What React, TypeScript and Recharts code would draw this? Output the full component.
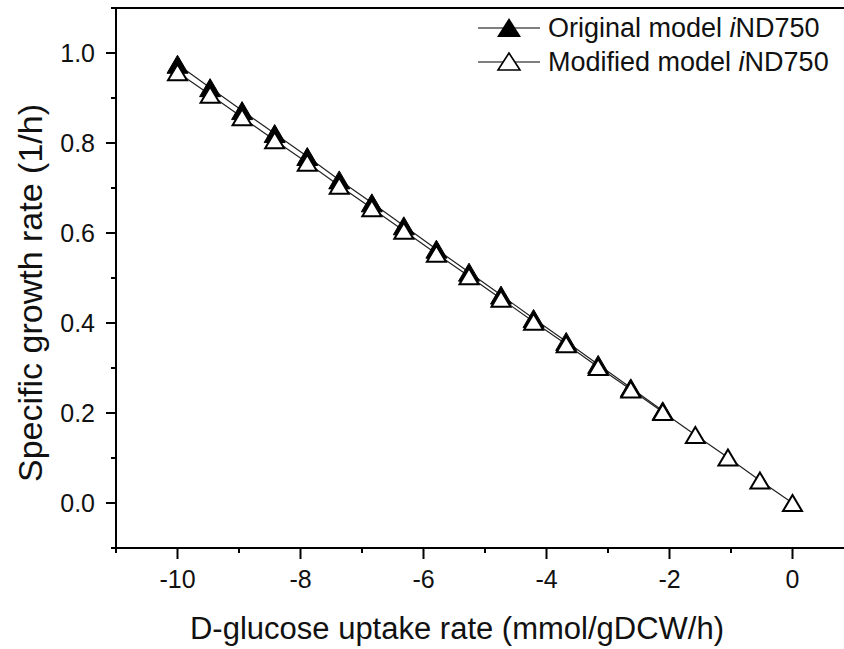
import { LineChart, Line, XAxis, YAxis, Legend, ReferenceLine } from "recharts";

// glucose uptake rate (x) and growth rate (y)
const uptakeModified = [
  -10, -9.47, -8.95, -8.42, -7.89, -7.37, -6.84, -6.32, -5.79, -5.26,
  -4.74, -4.21, -3.68, -3.16, -2.63, -2.11, -1.58, -1.05, -0.53, 0,
];
const growthModified = [
  0.957, 0.907, 0.857, 0.806, 0.756, 0.705, 0.655, 0.605, 0.554, 0.504,
  0.454, 0.403, 0.353, 0.302, 0.252, 0.202, 0.151, 0.101, 0.05, 0,
];
const uptakeOriginal = [
  -10, -9.47, -8.95, -8.42, -7.89, -7.37, -6.84, -6.32, -5.79, -5.26,
  -4.74, -4.21, -3.68, -3.16, -2.63, -2.11,
];
const growthOriginal = [
  0.975, 0.923, 0.872, 0.821, 0.77, 0.718, 0.667, 0.616, 0.564, 0.513,
  0.462, 0.41, 0.359, 0.308, 0.256, 0.205,
];

const xTicks = [-11, -10, -9, -8, -7, -6, -5, -4, -3, -2, -1, 0, 1];
const yTicks = [-0.1, 0, 0.1, 0.2, 0.3, 0.4, 0.5, 0.6, 0.7, 0.8, 0.9, 1.0, 1.1];

const originalData = uptakeOriginal.map((x, i) => ({ x, y: growthOriginal[i] }));
const modifiedData = uptakeModified.map((x, i) => ({ x, y: growthModified[i] }));

const FONT = "'Liberation Sans', Arial, sans-serif";

const XTick = (props: any) => {
  const { x, y, payload } = props;
  const major = payload.value % 2 === 0;
  return (
    <g>
      <line x1={x} x2={x} y1={y} y2={y + (major ? 11 : 5)} stroke="#000" strokeWidth={2} />
      {major && (
        <text x={x} y={y + 31} textAnchor="middle" dominantBaseline="central"
          fontSize={25} fontFamily={FONT} fill="#111">
          {String(payload.value)}
        </text>
      )}
    </g>
  );
};

const YTick = (props: any) => {
  const { x, y, payload } = props;
  const major = Math.round(payload.value * 10) % 2 === 0;
  return (
    <g>
      <line x1={x} x2={x - (major ? 10 : 5)} y1={y} y2={y} stroke="#000" strokeWidth={2} />
      {major && (
        <text x={x - 21} y={y} textAnchor="end" dominantBaseline="central"
          fontSize={25} fontFamily={FONT} fill="#111">
          {Number(payload.value).toFixed(1)}
        </text>
      )}
    </g>
  );
};

const filledTriangle = (props: any) => {
  const { cx, cy, index } = props;
  return (
    <path key={`o-${index}`} d={`M${cx},${cy - 9} L${cx - 10.5},${cy + 9} L${cx + 10.5},${cy + 9} Z`}
      fill="#000" stroke="#000" strokeWidth={1} />
  );
};

const openTriangle = (props: any) => {
  const { cx, cy, index } = props;
  return (
    <path key={`m-${index}`} d={`M${cx},${cy - 8} L${cx - 9.5},${cy + 8} L${cx + 9.5},${cy + 8} Z`}
      fill="#fff" stroke="#000" strokeWidth={2} />
  );
};

const LegendRow = ({ filled, label }: { filled: boolean; label: string }) => (
  <div style={{ display: "flex", alignItems: "center", height: 34 }}>
    <svg width={62} height={34} style={{ marginRight: 8 }}>
      <line x1={0} x2={62} y1={17} y2={17} stroke="#000" strokeWidth={1.2} />
      {filled ? (
        <path d="M31,7 L19,26 L43,26 Z" fill="#000" />
      ) : (
        <path d="M31,8 L20,25 L42,25 Z" fill="#fff" stroke="#000" strokeWidth={1.6} />
      )}
    </svg>
    <span style={{ fontSize: 27, fontFamily: FONT, color: "#111", whiteSpace: "nowrap", lineHeight: "34px" }}>
      {label} <i>i</i>ND750
    </span>
  </div>
);

const renderLegend = () => (
  <div>
    <LegendRow filled label="Original model" />
    <LegendRow filled={false} label="Modified model" />
  </div>
);

export default function App() {
  return (
    <div style={{ position: "absolute", left: 0, top: 0, width: 844, height: 649, overflow: "hidden", background: "#fff" }}>
      <LineChart width={864} height={649} margin={{ top: 8, right: 10, left: 0, bottom: 0 }}>
        <XAxis
          type="number"
          dataKey="x"
          domain={[-11, 1]}
          ticks={xTicks}
          interval={0}
          allowDataOverflow
          height={101}
          tickSize={0}
          tickMargin={0}
          tickLine={false}
          tick={<XTick />}
          axisLine={{ stroke: "#000", strokeWidth: 2 }}
          label={() => (
            <text x={457} y={628} textAnchor="middle" dominantBaseline="central"
              fontSize={31} fontFamily={FONT} fill="#111">
              D-glucose uptake rate (mmol/gDCW/h)
            </text>
          )}
        />
        <YAxis
          type="number"
          dataKey="y"
          domain={[-0.1, 1.1]}
          ticks={yTicks}
          interval={0}
          allowDataOverflow
          width={116}
          tickSize={0}
          tickMargin={0}
          tickLine={false}
          tick={<YTick />}
          axisLine={{ stroke: "#000", strokeWidth: 2 }}
          label={() => (
            <text x={30} y={293} textAnchor="middle" dominantBaseline="central"
              transform="rotate(-90 30 293)" fontSize={34} fontFamily={FONT} fill="#111">
              Specific growth rate (1/h)
            </text>
          )}
        />
        <ReferenceLine y={1.1} stroke="#000" strokeWidth={2} ifOverflow="visible" />
        <Legend
          layout="horizontal"
          verticalAlign="middle"
          align="center"
          content={renderLegend}
          wrapperStyle={{ left: 478, top: 11, width: 380 }}
        />
        <Line
          data={originalData}
          dataKey="y"
          type="linear"
          stroke="#222"
          strokeWidth={1.2}
          dot={filledTriangle}
          activeDot={false}
          isAnimationActive={false}
        />
        <Line
          data={modifiedData}
          dataKey="y"
          type="linear"
          stroke="#222"
          strokeWidth={1.2}
          dot={openTriangle}
          activeDot={false}
          isAnimationActive={false}
        />
      </LineChart>
    </div>
  );
}
